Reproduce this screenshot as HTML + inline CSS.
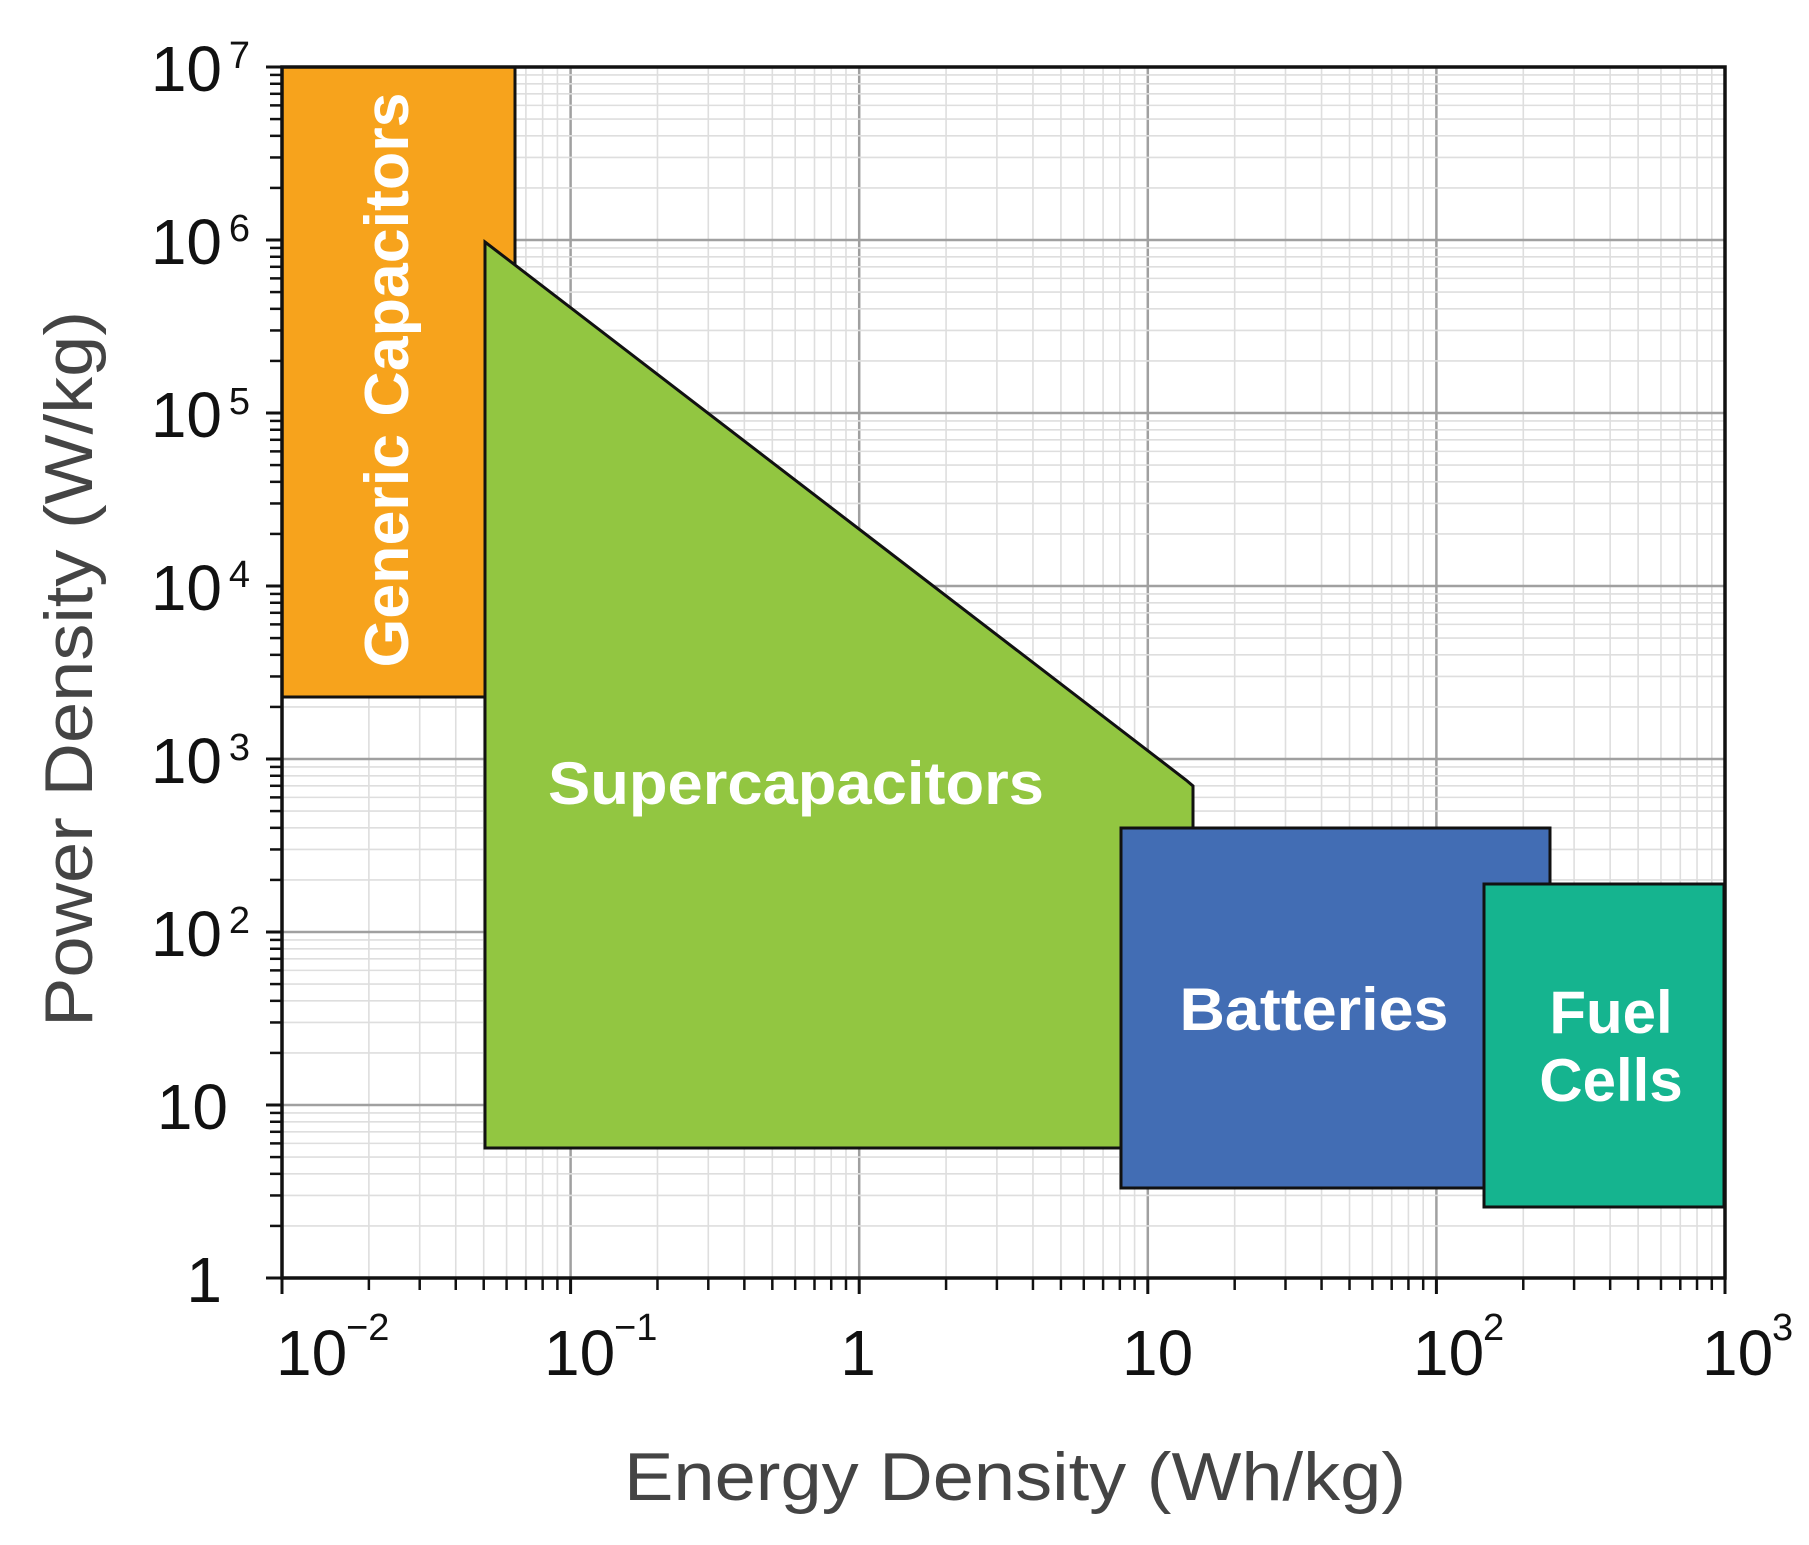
<!DOCTYPE html>
<html><head><meta charset="utf-8"><style>
html,body{margin:0;padding:0;background:#fff;}
svg{display:block;}
text{font-family:"Liberation Sans",sans-serif;}
</style></head><body>
<svg id="s" width="1809" height="1545" viewBox="0 0 1809 1545" xmlns="http://www.w3.org/2000/svg">
<g id="grid"></g>
<rect x="282" y="67" width="233" height="630" fill="#F7A31C" stroke="#111" stroke-width="3"/>
<polygon points="485,242 1186,780 1193,786 1193,1148 485,1148" fill="#92C641" stroke="#111" stroke-width="3"/>
<rect x="1121" y="828" width="429" height="360" fill="#426DB4" stroke="#111" stroke-width="3"/>
<rect x="1484" y="884" width="240" height="323" fill="#15B48F" stroke="#111" stroke-width="3"/>
<g id="axes"></g>
<text transform="translate(408,380) rotate(-90)" text-anchor="middle" font-size="62" font-weight="bold" fill="#fff" textLength="575" lengthAdjust="spacingAndGlyphs">Generic Capacitors</text>
<text x="796" y="804" text-anchor="middle" font-size="60" font-weight="bold" fill="#fff" textLength="496" lengthAdjust="spacingAndGlyphs">Supercapacitors</text>
<text x="1314" y="1030" text-anchor="middle" font-size="60" font-weight="bold" fill="#fff" textLength="269" lengthAdjust="spacingAndGlyphs">Batteries</text>
<text x="1611" y="1033" text-anchor="middle" font-size="60" font-weight="bold" fill="#fff">Fuel</text>
<text x="1611" y="1101" text-anchor="middle" font-size="60" font-weight="bold" fill="#fff">Cells</text>
<g font-size="64" fill="#111" text-anchor="end">
<text x="222" y="91">10</text><text x="250" y="68" font-size="38">7</text>
<text x="222" y="264">10</text><text x="250" y="241" font-size="38">6</text>
<text x="222" y="437">10</text><text x="250" y="414" font-size="38">5</text>
<text x="222" y="610">10</text><text x="250" y="587" font-size="38">4</text>
<text x="222" y="783">10</text><text x="250" y="760" font-size="38">3</text>
<text x="222" y="956">10</text><text x="250" y="933" font-size="38">2</text>
<text x="228" y="1129">10</text>
<text x="222" y="1302">1</text>
</g>
<g font-size="64" fill="#111">
<text x="276" y="1375">10</text><text x="346" y="1340" font-size="38">−2</text>
<text x="544" y="1375">10</text><text x="614" y="1340" font-size="38">−1</text>
<text x="858" y="1375" text-anchor="middle">1</text>
<text x="1122" y="1375">10</text>
<text x="1413" y="1375">10</text><text x="1483" y="1340" font-size="38">2</text>
<text x="1702" y="1375">10</text><text x="1772" y="1340" font-size="38">3</text>
</g>
<text x="1015" y="1500" text-anchor="middle" font-size="68" fill="#444" textLength="782" lengthAdjust="spacingAndGlyphs">Energy Density (Wh/kg)</text>
<text transform="translate(92,669) rotate(-90)" text-anchor="middle" font-size="68" fill="#444" textLength="716" lengthAdjust="spacingAndGlyphs">Power Density (W/kg)</text>
</svg>
<script>
(function(){
var NS="http://www.w3.org/2000/svg";
var X0=282,X1=1725,Y0=1278,Y1=67;
var dx=(X1-X0)/5, dy=(Y0-Y1)/7;
var g=document.getElementById('grid'), a=document.getElementById('axes');
function L(p,x1,y1,x2,y2,c,w){var l=document.createElementNS(NS,'line');l.setAttribute('x1',x1);l.setAttribute('y1',y1);l.setAttribute('x2',x2);l.setAttribute('y2',y2);l.setAttribute('stroke',c);l.setAttribute('stroke-width',w);p.appendChild(l);}
for(var d=0;d<5;d++){for(var k=1;k<10;k++){var x=X0+dx*(d+Math.log10(k));
 if(k==1){L(g,x,Y1,x,Y0,'#a0a0a0',2.5);L(a,x,Y0,x,Y0+16,'#111',3);}
 else{L(g,x,Y1,x,Y0,'#dedede',1.6);L(a,x,Y0,x,Y0+12,'#111',2.5);}}}
L(a,X1,Y0,X1,Y0+16,'#111',3);
for(var d=0;d<7;d++){for(var k=1;k<10;k++){var y=Y0-dy*(d+Math.log10(k));
 if(k==1){L(g,X0,y,X1,y,'#a0a0a0',2.5);L(a,X0-16,y,X0,y,'#111',3);}
 else{L(g,X0,y,X1,y,'#dedede',1.6);L(a,X0-12,y,X0,y,'#111',2.5);}}}
L(a,X0-16,Y1,X0,Y1,'#111',3);
var r=document.createElementNS(NS,'rect');r.setAttribute('x',X0);r.setAttribute('y',Y1);r.setAttribute('width',X1-X0);r.setAttribute('height',Y0-Y1);r.setAttribute('fill','none');r.setAttribute('stroke','#111');r.setAttribute('stroke-width',3.5);a.appendChild(r);
})();
</script>
</body></html>
